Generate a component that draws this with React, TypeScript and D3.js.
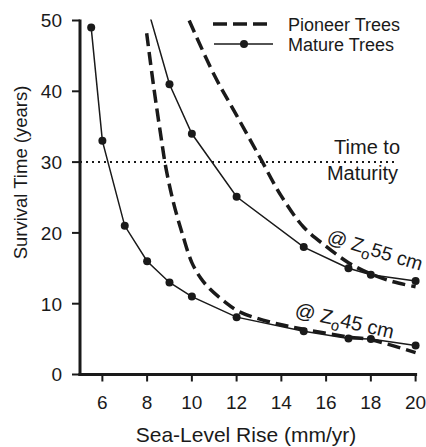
import React from "react";
import * as d3 from "d3";

const xTicks = [6, 8, 10, 12, 14, 16, 18, 20];
const yTicks = [0, 10, 20, 30, 40, 50];

// Mature trees (solid with markers)
const matureLowX = [5.5, 6, 7, 8, 9, 10, 12, 15, 17, 18, 20];
const matureLowY = [49, 33, 21, 16, 13, 11, 8.1, 6.1, 5.1, 5.0, 4.1];
const matureHighX = [8, 9, 10, 12, 15, 17, 18, 20];
const matureHighY = [52, 41, 34, 25.1, 18, 15, 14.1, 13.2];

// Pioneer trees (dashed)
const pioneerLowX = [7.98, 8.3, 8.6, 8.85, 9.2, 9.6, 10, 10.4, 10.8, 11.5, 12.1, 13.5, 15, 17, 18, 20];
const pioneerLowY = [48.2, 40.5, 34, 29, 24, 19.6, 15.8, 13.6, 12.1, 10.2, 8.9, 7.4, 6.4, 5.3, 4.9, 3.1];
const pioneerHighX = [9.88, 11, 12, 13, 14, 15, 16, 17, 18, 19, 20];
const pioneerHighY = [50, 42.3, 36.6, 30.9, 25.2, 20.8, 18.1, 15.8, 14.2, 13.1, 12.4];

const maturityYears = 30;

const W = 426;
const H = 447;
const FONT = "'Liberation Sans', Arial, sans-serif";
const INK = "#1a1a1a";

export default function App() {
  const x = d3.scaleLinear().domain([5, 20]).range([80, 415.6]);
  const y = d3.scaleLinear().domain([0, 50]).range([374.5, 20.5]);

  const toPts = (xs: number[], ys: number[]) => xs.map((v, i) => [v, ys[i]] as [number, number]);

  const lin = d3.line<[number, number]>().x((d) => x(d[0])).y((d) => y(d[1]));
  const smooth = d3
    .line<[number, number]>()
    .x((d) => x(d[0]))
    .y((d) => y(d[1]))
    .curve(d3.curveCatmullRom.alpha(0.5));

  const mLow = toPts(matureLowX, matureLowY);
  const mHigh = toPts(matureHighX, matureHighY);
  const pLow = toPts(pioneerLowX, pioneerLowY);
  const pHigh = toPts(pioneerHighX, pioneerHighY);

  const x0 = x(5);
  const y0 = y(0);

  return (
    <svg width={W} height={H} style={{ position: "absolute", left: 0, top: 0, background: "#fff" }}>
      <defs>
        <clipPath id="plot">
          <rect x={x0} y={y(50) - 1} width={x(20) - x0 + 6} height={y0 - y(50) + 1} />
        </clipPath>
      </defs>
      <rect width={W} height={H} fill="#fff" />

      {/* maturity line */}
      <line
        x1={x0}
        x2={394}
        y1={y(maturityYears)}
        y2={y(maturityYears)}
        stroke={INK}
        strokeWidth={2}
        strokeDasharray="2,4"
      />

      <g clipPath="url(#plot)">
        <path d={smooth(pLow) || ""} fill="none" stroke={INK} strokeWidth={3.5} strokeDasharray="13,6" />
        <path d={smooth(pHigh) || ""} fill="none" stroke={INK} strokeWidth={3.5} strokeDasharray="13,6" />
        <path d={lin(mLow) || ""} fill="none" stroke={INK} strokeWidth={1.5} />
        <path d={lin(mHigh) || ""} fill="none" stroke={INK} strokeWidth={1.5} />
        {[...mLow, ...mHigh].map((d, i) => (
          <circle key={i} cx={x(d[0])} cy={y(d[1])} r={4} fill={INK} />
        ))}
      </g>

      {/* axes */}
      <line x1={x0} x2={x0} y1={y(50) - 1} y2={y0 + 1.5} stroke={INK} strokeWidth={3} />
      <line x1={x0 - 1.5} x2={x(20) + 1.5} y1={y0} y2={y0} stroke={INK} strokeWidth={3} />
      {yTicks.map((t) => (
        <g key={"y" + t}>
          <line x1={x0 - 8} x2={x0} y1={y(t)} y2={y(t)} stroke={INK} strokeWidth={2} />
          <text
            x={62}
            y={y(t)}
            dy="0.36em"
            textAnchor="end"
            fontFamily={FONT}
            fontSize={19}
            fill={INK}
          >
            {t}
          </text>
        </g>
      ))}
      {xTicks.map((t) => (
        <g key={"x" + t}>
          <line x1={x(t)} x2={x(t)} y1={y0} y2={y0 + 7} stroke={INK} strokeWidth={2} />
          <text x={x(t)} y={409} textAnchor="middle" fontFamily={FONT} fontSize={19} fill={INK}>
            {t}
          </text>
        </g>
      ))}

      <text x={246} y={442} textAnchor="middle" fontFamily={FONT} fontSize={21} fill={INK}>
        Sea-Level Rise (mm/yr)
      </text>
      <text
        transform="translate(27,172.5) rotate(-90)"
        textAnchor="middle"
        fontFamily={FONT}
        fontSize={18.5}
        fill={INK}
      >
        Survival Time (years)
      </text>

      {/* legend */}
      <line x1={213} x2={267} y1={24} y2={24} stroke={INK} strokeWidth={3.5} strokeDasharray="14,6" />
      <line x1={214} x2={273} y1={44} y2={44} stroke={INK} strokeWidth={1.5} />
      <circle cx={244} cy={44} r={4} fill={INK} />
      <text x={288} y={30.5} fontFamily={FONT} fontSize={18} fill={INK}>
        Pioneer Trees
      </text>
      <text x={288} y={50.5} fontFamily={FONT} fontSize={18} fill={INK}>
        Mature Trees
      </text>

      {/* annotations */}
      <text x={400} y={154} textAnchor="end" fontFamily={FONT} fontSize={20} fill={INK}>
        Time to
      </text>
      <text x={398} y={180} textAnchor="end" fontFamily={FONT} fontSize={20} fill={INK}>
        Maturity
      </text>

      <text transform="translate(326,242) rotate(17)" fontFamily={FONT} fontSize={19.5} fill={INK}>
        @ Z
        <tspan fontSize={15} dy={5}>
          o
        </tspan>
        <tspan dy={-5}>55 cm</tspan>
      </text>
      <text transform="translate(294,316) rotate(13)" fontFamily={FONT} fontSize={20} fill={INK}>
        @ Z
        <tspan fontSize={15} dy={5}>
          o
        </tspan>
        <tspan dy={-5}>45 cm</tspan>
      </text>
    </svg>
  );
}
